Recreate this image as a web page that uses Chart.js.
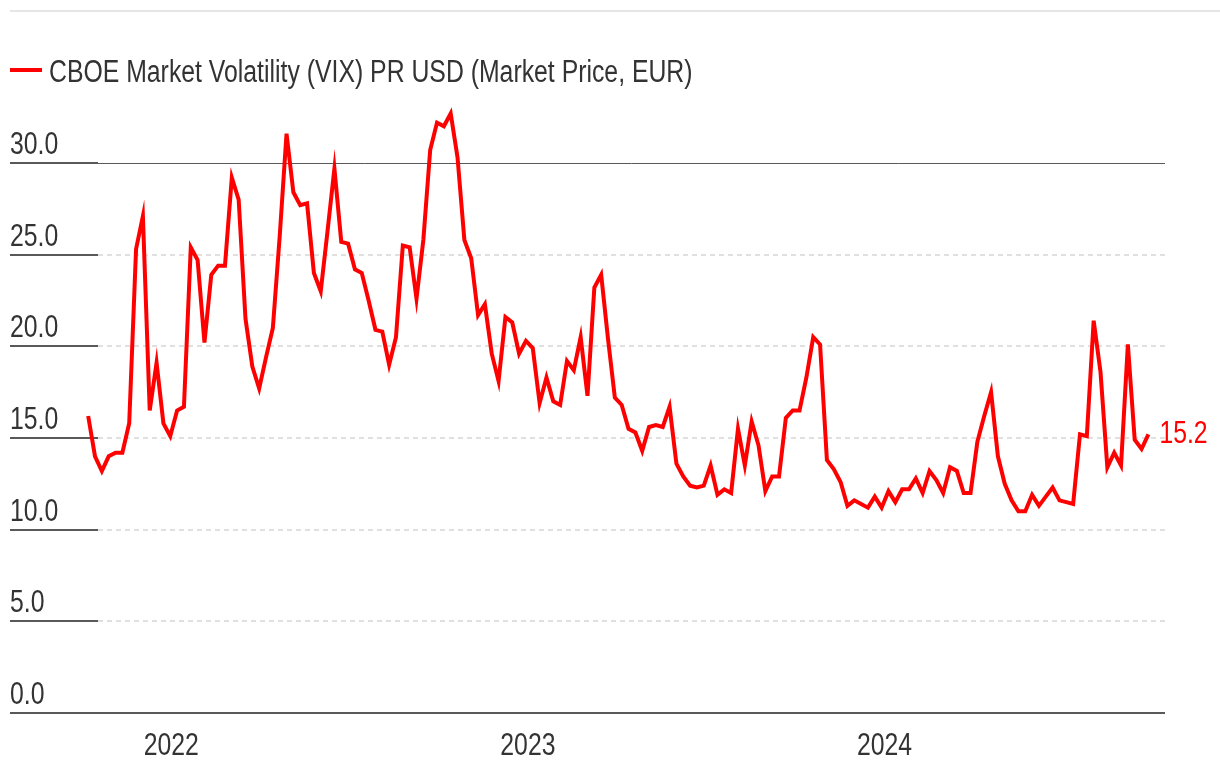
<!DOCTYPE html>
<html>
<head>
<meta charset="utf-8">
<script src="https://cdn.jsdelivr.net/npm/chart.js@4.4.1/dist/chart.umd.min.js"></script>
<style>
  body { margin: 0; background: #fff; }
  #wrap { position: relative; width: 1220px; height: 776px; overflow: hidden; }
  #topRule { position: absolute; left: 10px; right: 0; top: 10px; height: 2px; background: #e6e6e6; }
  #chartBox { position: absolute; left: 0; top: 0; width: 1220px; height: 776px; }
</style>
</head>
<body>
<div id="wrap">
  <div id="topRule"></div>
  <div id="chartBox"><canvas id="vixChart"></canvas></div>
</div>
<script>
// weekly closes, first week ending 2021-10-08
const startDate = Date.UTC(2021, 9, 8);
const vixValues = [
  16.2, 14.0, 13.2, 14.0, 14.2, 14.2, 15.8, 25.3, 27.1, 16.5, 19.1, 15.8, 15.1, 16.5, 16.7, 25.4,
  24.7, 20.2, 23.9, 24.4, 24.4, 29.2, 28.0, 21.5, 18.9, 17.7, 19.4, 21.0, 26.0, 31.6, 28.4,
  27.7, 27.8, 24.0, 23.0, 26.3, 29.7, 25.7, 25.6, 24.2, 24.0, 22.5, 20.9, 20.8, 19.0, 20.5,
  25.5, 25.4, 22.6, 25.8, 30.7, 32.2, 32.0, 32.7, 30.3, 25.8, 24.8, 21.7, 22.3, 19.6, 18.1, 21.6,
  21.3, 19.6, 20.3, 19.9, 16.9, 18.3, 17.0, 16.8, 19.2, 18.7, 20.5, 17.3, 23.2, 23.9, 20.4,
  17.2, 16.8, 15.5, 15.3, 14.3, 15.6, 15.7, 15.6, 16.7, 13.6, 12.9, 12.4, 12.3, 12.4, 13.5,
  11.9, 12.2, 12.0, 15.5, 13.5, 15.9, 14.6, 12.1, 12.9, 12.9, 16.1, 16.5, 16.5, 18.3, 20.5,
  20.1, 13.8, 13.3, 12.6, 11.3, 11.6, 11.4, 11.2, 11.8, 11.2, 12.1, 11.5, 12.2, 12.2, 12.8, 12.0,
  13.2, 12.7, 12.0, 13.4, 13.2, 12.0, 12.0, 14.8, 16.2, 17.5, 14.0, 12.5, 11.6, 11.0, 11.0,
  11.9, 11.3, 11.8, 12.3, 11.6, 11.5, 11.4, 15.2, 15.1, 21.4, 18.6, 13.4, 14.2, 13.5, 20.1,
  14.9, 14.4, 15.2
];
const seriesName = 'CBOE Market Volatility (VIX) PR USD (Market Price, EUR)';
const yearLabels = ['2022', '2023', '2024'];
const yTicks = [0, 5, 10, 15, 20, 25, 30];

const DAY = 86400000;
const yearTickDays = yearLabels.map(y => (Date.UTC(+y, 0, 1) - startDate) / DAY);
const points = vixValues.map((v, i) => ({ x: i * 7, y: v }));

// no condensed face installed, so squeeze Liberation Sans horizontally
const FONT = "31px 'Liberation Sans', Arial, sans-serif";
const SX = 0.8;
const TEXT = '#333333';
const RED = '#ff0000';
const TICK_SEG = 88;

function squeezedText(ctx, text, x, y, align, color) {
  ctx.save();
  ctx.font = FONT;
  ctx.fillStyle = color;
  ctx.textBaseline = 'alphabetic';
  const w = ctx.measureText(text).width * SX;
  let x0 = x;
  if (align === 'center') x0 = x - w / 2;
  else if (align === 'right') x0 = x - w;
  ctx.translate(x0, y);
  ctx.scale(SX, 1);
  ctx.textAlign = 'left';
  ctx.fillText(text, 0, 0);
  ctx.restore();
}

const gridPlugin = {
  id: 'customGrid',
  beforeDatasetsDraw(chart) {
    const { ctx, chartArea, scales: { y } } = chart;
    ctx.save();
    yTicks.forEach(v => {
      if (v === 0) return;
      const py = Math.round(y.getPixelForValue(v));
      ctx.setLineDash([]);
      ctx.strokeStyle = '#595959';
      ctx.lineWidth = 2;
      ctx.beginPath();
      ctx.moveTo(chartArea.left, py);
      ctx.lineTo(chartArea.left + TICK_SEG, py);
      ctx.stroke();
      ctx.beginPath();
      if (v === 30) {
        ctx.lineWidth = 1;
        ctx.moveTo(chartArea.left + TICK_SEG, py + 0.5);
        ctx.lineTo(chartArea.right, py + 0.5);
      } else {
        ctx.strokeStyle = '#e0e0e0';
        ctx.setLineDash([5, 4]);
        ctx.moveTo(chartArea.left + TICK_SEG, py);
        ctx.lineTo(chartArea.right, py);
      }
      ctx.stroke();
    });
    ctx.restore();
  },
  afterDatasetsDraw(chart) {
    const { ctx, chartArea, scales: { x, y } } = chart;
    ctx.save();
    // baseline
    const p0 = Math.round(y.getPixelForValue(0));
    ctx.strokeStyle = '#595959';
    ctx.lineWidth = 2;
    ctx.beginPath();
    ctx.moveTo(chartArea.left, p0);
    ctx.lineTo(chartArea.right, p0);
    ctx.stroke();
    ctx.restore();

    // y labels
    yTicks.forEach(v => {
      squeezedText(ctx, v.toFixed(1), chartArea.left, y.getPixelForValue(v) - 9, 'left', TEXT);
    });
    // year labels
    yearTickDays.forEach((d, i) => {
      squeezedText(ctx, yearLabels[i], x.getPixelForValue(d), 755, 'center', TEXT);
    });

    // last value label
    const meta = chart.getDatasetMeta(0);
    const last = meta.data[meta.data.length - 1];
    squeezedText(ctx, vixValues[vixValues.length - 1].toFixed(1), last.x + 11, last.y + 9, 'left', RED);

    // legend
    ctx.save();
    ctx.strokeStyle = RED;
    ctx.lineWidth = 4;
    ctx.beginPath();
    ctx.moveTo(10, 70);
    ctx.lineTo(42, 70);
    ctx.stroke();
    ctx.restore();
    squeezedText(ctx, seriesName, 49, 82, 'left', TEXT);
  }
};

new Chart(document.getElementById('vixChart'), {
  type: 'line',
  data: {
    datasets: [{
      label: seriesName,
      data: points,
      borderColor: RED,
      backgroundColor: RED,
      borderWidth: 4,
      pointRadius: 0,
      tension: 0,
      fill: false
    }]
  },
  options: {
    responsive: true,
    maintainAspectRatio: false,
    animation: false,
    layout: { padding: { left: 10, right: 55, top: 71.3, bottom: 0 } },
    plugins: { legend: { display: false }, tooltip: { enabled: false } },
    scales: {
      x: {
        type: 'linear',
        min: -80,
        max: 1102,
        grid: { display: false },
        border: { display: false },
        ticks: { display: false },
        afterFit: s => { s.height = 63; }
      },
      y: {
        min: 0,
        max: 35,
        grid: { display: false },
        border: { display: false },
        ticks: { display: false },
        afterFit: s => { s.width = 0; }
      }
    }
  },
  plugins: [gridPlugin]
});
</script>
</body>
</html>
